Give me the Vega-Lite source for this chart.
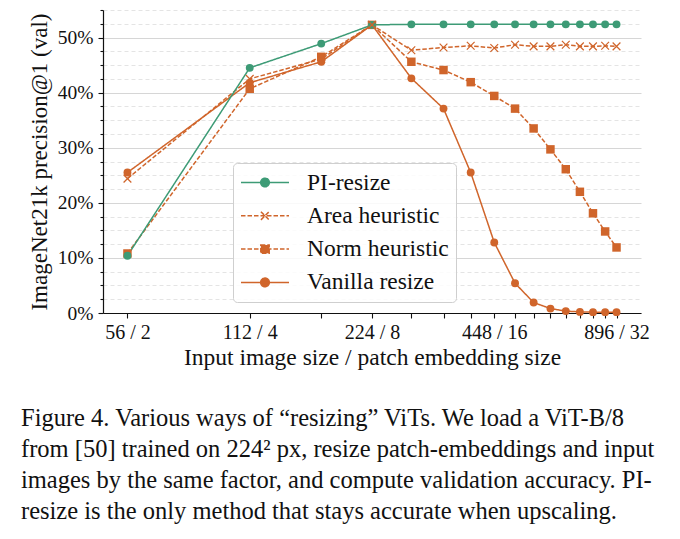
{
  "$schema": "https://vega.github.io/schema/vega-lite/v6.json",
  "width": 538,
  "height": 303,
  "autosize": {"type": "none"},
  "padding": {"left": 103, "top": 10, "right": 39, "bottom": 226},
  "background": "white",
  "config": {
    "view": {"stroke": null},
    "font": "Liberation Serif",
    "axis": {"labelFont": "Liberation Serif", "titleFont": "Liberation Serif", "labelColor": "#111", "titleColor": "#111", "domainColor": "#111", "tickColor": "#111", "domainWidth": 1.2, "tickWidth": 1.1, "titleFontWeight": "normal"}
  },
  "title": {
    "text": ["Figure 4.  Various ways of “resizing” ViTs.  We load a ViT-B/8", "from [50] trained on 224² px, resize patch-embeddings and input", "images by the same factor, and compute validation accuracy.  PI-", "resize is the only method that stays accurate when upscaling."],
    "orient": "bottom", "anchor": "start", "frame": "group", "dx": -82, "offset": 38,
    "font": "Liberation Serif", "fontSize": 24.5, "fontWeight": "normal", "color": "#111", "lineHeight": 31, "align": "left"
  },
  "data": {"values": [
    {"px": 56, "series": "Vanilla resize", "acc": 25.5},
    {"px": 112, "series": "Vanilla resize", "acc": 41.8},
    {"px": 168, "series": "Vanilla resize", "acc": 45.6},
    {"px": 224, "series": "Vanilla resize", "acc": 52.3},
    {"px": 280, "series": "Vanilla resize", "acc": 42.6},
    {"px": 336, "series": "Vanilla resize", "acc": 37.1},
    {"px": 392, "series": "Vanilla resize", "acc": 25.5},
    {"px": 448, "series": "Vanilla resize", "acc": 12.8},
    {"px": 504, "series": "Vanilla resize", "acc": 5.4},
    {"px": 560, "series": "Vanilla resize", "acc": 1.9},
    {"px": 616, "series": "Vanilla resize", "acc": 0.8},
    {"px": 672, "series": "Vanilla resize", "acc": 0.35},
    {"px": 728, "series": "Vanilla resize", "acc": 0.2},
    {"px": 784, "series": "Vanilla resize", "acc": 0.15},
    {"px": 840, "series": "Vanilla resize", "acc": 0.15},
    {"px": 896, "series": "Vanilla resize", "acc": 0.15},
    {"px": 56, "series": "Norm heuristic", "acc": 10.8},
    {"px": 112, "series": "Norm heuristic", "acc": 40.7},
    {"px": 168, "series": "Norm heuristic", "acc": 46.5},
    {"px": 224, "series": "Norm heuristic", "acc": 52.3},
    {"px": 280, "series": "Norm heuristic", "acc": 45.6},
    {"px": 336, "series": "Norm heuristic", "acc": 44.1},
    {"px": 392, "series": "Norm heuristic", "acc": 41.9},
    {"px": 448, "series": "Norm heuristic", "acc": 39.4},
    {"px": 504, "series": "Norm heuristic", "acc": 37.1},
    {"px": 560, "series": "Norm heuristic", "acc": 33.5},
    {"px": 616, "series": "Norm heuristic", "acc": 29.7},
    {"px": 672, "series": "Norm heuristic", "acc": 26.1},
    {"px": 728, "series": "Norm heuristic", "acc": 22.0},
    {"px": 784, "series": "Norm heuristic", "acc": 18.1},
    {"px": 840, "series": "Norm heuristic", "acc": 14.8},
    {"px": 896, "series": "Norm heuristic", "acc": 11.9},
    {"px": 56, "series": "Area heuristic", "acc": 24.4},
    {"px": 112, "series": "Area heuristic", "acc": 42.5},
    {"px": 168, "series": "Area heuristic", "acc": 46.1},
    {"px": 224, "series": "Area heuristic", "acc": 52.3},
    {"px": 280, "series": "Area heuristic", "acc": 47.7},
    {"px": 336, "series": "Area heuristic", "acc": 48.2},
    {"px": 392, "series": "Area heuristic", "acc": 48.5},
    {"px": 448, "series": "Area heuristic", "acc": 48.1},
    {"px": 504, "series": "Area heuristic", "acc": 48.7},
    {"px": 560, "series": "Area heuristic", "acc": 48.4},
    {"px": 616, "series": "Area heuristic", "acc": 48.4},
    {"px": 672, "series": "Area heuristic", "acc": 48.7},
    {"px": 728, "series": "Area heuristic", "acc": 48.4},
    {"px": 784, "series": "Area heuristic", "acc": 48.4},
    {"px": 840, "series": "Area heuristic", "acc": 48.5},
    {"px": 896, "series": "Area heuristic", "acc": 48.4},
    {"px": 56, "series": "PI-resize", "acc": 10.4},
    {"px": 112, "series": "PI-resize", "acc": 44.5},
    {"px": 168, "series": "PI-resize", "acc": 48.9},
    {"px": 224, "series": "PI-resize", "acc": 52.3},
    {"px": 280, "series": "PI-resize", "acc": 52.4},
    {"px": 336, "series": "PI-resize", "acc": 52.4},
    {"px": 392, "series": "PI-resize", "acc": 52.4},
    {"px": 448, "series": "PI-resize", "acc": 52.4},
    {"px": 504, "series": "PI-resize", "acc": 52.4},
    {"px": 560, "series": "PI-resize", "acc": 52.4},
    {"px": 616, "series": "PI-resize", "acc": 52.4},
    {"px": 672, "series": "PI-resize", "acc": 52.4},
    {"px": 728, "series": "PI-resize", "acc": 52.4},
    {"px": 784, "series": "PI-resize", "acc": 52.4},
    {"px": 840, "series": "PI-resize", "acc": 52.4},
    {"px": 896, "series": "PI-resize", "acc": 52.4}
  ]},
  "encoding": {
    "x": {
      "field": "px", "type": "quantitative",
      "scale": {"type": "log", "domain": [48.75, 1029.3], "nice": false, "zero": false},
      "axis": {
        "title": "Input image size / patch embedding size",
        "values": [56, 112, 168, 224, 280, 336, 392, 448, 504, 560, 616, 672, 728, 784, 840, 896],
        "labelExpr": "indexof([56,112,224,448,896], datum.value) >= 0 ? datum.value + ' / ' + (datum.value / 28) : ''",
        "grid": false, "tickSize": 5, "labelPadding": 4, "labelFontSize": 20, "titleFontSize": 23.5, "titlePadding": 3, "labelFlush": false, "labelOverlap": false
      }
    },
    "y": {
      "field": "acc", "type": "quantitative",
      "scale": {"domain": [0, 55], "nice": false},
      "axis": {
        "title": "ImageNet21k precision@1 (val)",
        "values": [0, 2.5, 5, 7.5, 10, 12.5, 15, 17.5, 20, 22.5, 25, 27.5, 30, 32.5, 35, 37.5, 40, 42.5, 45, 47.5, 50, 52.5, 55],
        "labelExpr": "datum.value % 10 === 0 ? datum.value + '%' : ''",
        "grid": true,
        "gridDash": {"condition": {"test": "datum.value % 10 === 0", "value": [1, 0]}, "value": [4, 3]},
        "gridColor": {"condition": {"test": "datum.value % 10 === 0", "value": "#d6d6d6"}, "value": "#e4e4e4"},
        "gridWidth": {"condition": {"test": "datum.value % 10 === 0", "value": 1.2}, "value": 1},
        "tickSize": {"condition": {"test": "datum.value % 10 === 0", "value": 5}, "value": 3},
        "labelPadding": 5, "labelFontSize": 19.5, "titleFontSize": 23, "titlePadding": 6, "labelOverlap": false, "labelFlush": false
      }
    }
  },
  "layer": [
    {
      "mark": {"type": "line", "strokeWidth": 1.5},
      "encoding": {
        "color": {
          "field": "series", "type": "nominal",
          "scale": {"domain": ["PI-resize", "Area heuristic", "Norm heuristic", "Vanilla resize"], "range": ["#3d9b76", "#d0652b", "#d0652b", "#d0652b"]},
          "legend": {
            "title": null, "orient": "none", "legendX": 130, "legendY": 153,
            "symbolSize": 2304, "clipHeight": 25, "rowPadding": 8.3, "padding": 7, "labelOffset": 17,
            "labelFont": "Liberation Serif", "labelFontSize": 23.5, "labelColor": "#111", "labelLimit": 300,
            "strokeColor": "#cfcfcf", "fillColor": "rgba(255,255,255,0.85)", "cornerRadius": 4,
            "symbolStrokeWidth": 1.5,
            "encode": {"symbols": {"update": {
              "shape": {"scale": "shape", "field": "value"},
              "stroke": {"scale": "color", "field": "value"},
              "fill": {"scale": "color", "field": "value"},
              "strokeDash": {"scale": "strokeDash", "field": "value"},
              "strokeWidth": {"value": 1.5},
              "opacity": {"value": 1}
            }}}
          }
        },
        "strokeDash": {
          "field": "series", "type": "nominal",
          "scale": {"domain": ["PI-resize", "Area heuristic", "Norm heuristic", "Vanilla resize"], "range": [[1, 0], [4.5, 2], [4.5, 2], [1, 0]]}
        }
      }
    },
    {
      "transform": [{"filter": "datum.series !== 'Area heuristic'"}],
      "mark": {"type": "point", "filled": true, "opacity": 1},
      "encoding": {
        "color": {"field": "series", "type": "nominal"},
        "shape": {"condition": {"test": "datum.series === 'Norm heuristic'", "value": "square"}, "value": "circle"},
        "size": {"condition": {"test": "datum.series === 'Norm heuristic'", "value": 72}, "value": 62}
      }
    },
    {
      "transform": [{"filter": "datum.series === 'Area heuristic'"}],
      "mark": {"type": "point", "filled": false, "opacity": 1, "shape": "M-1,-1L1,1M-1,1L1,-1", "size": 60, "strokeWidth": 1.2},
      "encoding": {
        "color": {"field": "series", "type": "nominal"}
      }
    },
    {
      "transform": [{"filter": "datum.px < 0"}],
      "mark": {"type": "point", "filled": true},
      "encoding": {
        "color": {"field": "series", "type": "nominal"},
        "shape": {
          "field": "series", "type": "nominal",
          "scale": {"domain": ["PI-resize", "Area heuristic", "Norm heuristic", "Vanilla resize"], "range": [
            "M-1,0H1M0.18,0A0.18,0.18,0,1,1,-0.18,0A0.18,0.18,0,1,1,0.18,0Z",
            "M-1,0H1M-0.17,-0.17L0.17,0.17M-0.17,0.17L0.17,-0.17",
            "M-1,0H1M-0.175,-0.175H0.175V0.175H-0.175Z",
            "M-1,0H1M0.18,0A0.18,0.18,0,1,1,-0.18,0A0.18,0.18,0,1,1,0.18,0Z"
          ]}
        }
      }
    }
  ]
}
